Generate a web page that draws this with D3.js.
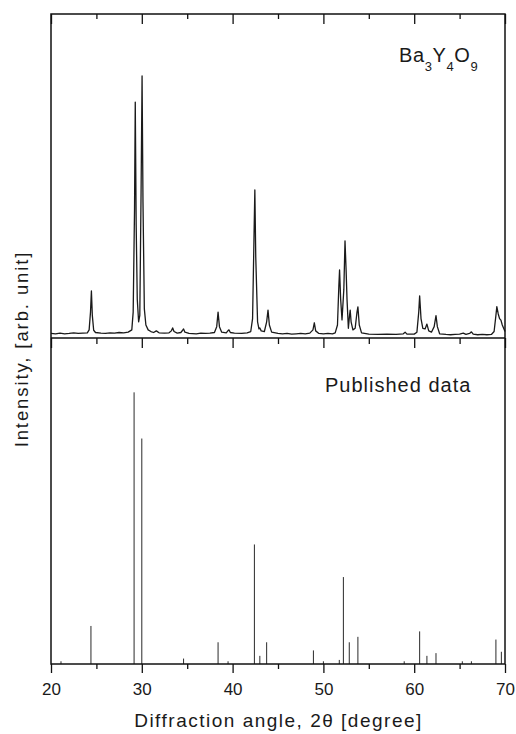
<!DOCTYPE html>
<html>
<head>
<meta charset="utf-8">
<script src="https://cdn.jsdelivr.net/npm/d3@7"></script>
<style>
  html, body { margin: 0; padding: 0; background: #fff; }
  svg { display: block; font-family: "Liberation Sans", Arial, sans-serif; }
</style>
</head>
<body>
<div id="chart"></div>
<script>
const measured = [
  [20.0,14],[20.5,13],[21.0,15],[21.5,13],[22.0,14],[22.5,16],[23.0,14],[23.5,15],[24.0,16],
  [24.2,25],[24.35,80],[24.45,145],[24.55,70],[24.7,24],[24.9,17],[25.5,15],[26.0,14],[26.5,16],
  [27.0,15],[27.5,17],[28.0,16],[28.5,18],[28.9,25],[29.05,80],[29.2,400],[29.28,728],[29.38,350],
  [29.5,120],[29.65,50],[29.78,70],[29.92,450],[30.03,809],[30.13,420],[30.28,90],[30.45,40],
  [30.7,25],[31.0,20],[31.3,17],[31.6,22],[31.9,16],[32.5,15],[33.0,16],[33.25,22],[33.4,31],
  [33.55,20],[33.9,15],[34.3,17],[34.5,24],[34.6,28],[34.75,18],[35.2,14],[36.0,13],[36.5,15],
  [37.0,14],[37.5,15],[38.0,17],[38.25,35],[38.4,80],[38.55,35],[38.8,18],[39.3,16],[39.5,23],
  [39.6,25],[39.75,17],[40.2,15],[41.0,14],[41.6,16],[42.0,20],[42.2,60],[42.35,300],[42.45,457],
  [42.55,250],[42.75,50],[42.9,28],[43.0,31],[43.15,22],[43.5,20],[43.75,50],[43.9,86],[44.05,40],
  [44.3,18],[45.0,14],[45.5,13],[46.0,14],[46.5,12],[47.0,13],[47.5,14],[48.0,13],[48.5,15],
  [48.85,25],[49.0,47],[49.15,22],[49.5,14],[50.0,13],[50.5,14],[51.0,13],[51.3,16],[51.55,40],
  [51.7,160],[51.78,210],[51.9,120],[52.05,56],[52.25,150],[52.38,300],[52.5,210],[52.6,120],
  [52.75,30],[52.88,70],[52.95,86],[53.05,50],[53.25,25],[53.5,30],[53.7,80],[53.8,96],[53.95,40],
  [54.2,16],[55.0,12],[56.0,11],[57.0,12],[58.0,11],[58.8,13],[59.0,18],[59.2,12],[60.0,12],
  [60.3,18],[60.5,80],[60.6,130],[60.75,60],[60.95,30],[61.2,28],[61.4,43],[61.6,22],[61.9,18],
  [62.2,35],[62.4,69],[62.55,35],[62.8,13],[63.5,11],[64.0,10],[64.5,11],[65.0,12],[65.4,15],
  [65.7,11],[66.1,14],[66.3,19],[66.5,12],[67.0,10],[67.5,11],[68.0,10],[68.5,11],[68.8,20],
  [69.0,70],[69.1,97],[69.25,75],[69.4,60],[69.55,55],[69.7,40],[69.85,30],[70.0,20]
];

// reference stick pattern (published data)
const stickAngles = [21.1, 24.4, 29.15, 30.0, 34.6, 38.4, 39.5, 42.4, 43.0, 43.75, 48.9, 50.0,
  51.75, 52.2, 52.85, 53.8, 58.9, 60.6, 61.4, 62.4, 65.3, 66.3, 69.0, 69.6];
const stickIntensity = [1, 14, 100, 83, 2, 8, 1, 44, 3, 8, 5, 1,
  1.5, 32, 8, 10, 1, 12, 3, 4, 1, 1, 9, 4.5];

const majorTicks = [20, 30, 40, 50, 60, 70];
const minorTicks = [25, 35, 45, 55, 65];

const W = 516, H = 734;
const plotLeft = 51, plotRight = 505, plotTop = 14, plotMid = 338, plotBottom = 664;

const svg = d3.select('#chart').append('svg')
  .attr('width', W)
  .attr('height', H);

const x = d3.scaleLinear().domain([20, 70]).range([plotLeft, plotRight]);
const yTop = d3.scaleLinear().domain([0, 1000]).range([plotMid, plotTop]);
const yBot = d3.scaleLinear().domain([0, 120]).range([plotBottom, plotMid]);

// measured curve
svg.append('path')
  .datum(measured)
  .attr('fill', 'none')
  .attr('stroke', '#1a1a1a')
  .attr('stroke-width', 1.3)
  .attr('stroke-linejoin', 'round')
  .attr('d', d3.line().x(d => x(d[0])).y(d => yTop(d[1])));

// sticks
svg.append('g').selectAll('line')
  .data(stickAngles)
  .join('line')
  .attr('x1', d => x(d))
  .attr('x2', d => x(d))
  .attr('y1', yBot(0))
  .attr('y2', (d, i) => yBot(stickIntensity[i]))
  .attr('stroke', '#2a2a2a')
  .attr('stroke-width', 1);

// tick rows, all pointing down
function tickRow(y, size, values) {
  const g = svg.append('g')
    .attr('transform', `translate(0,${y})`)
    .call(d3.axisBottom(x).tickValues(values).tickSize(size).tickFormat(''));
  g.select('.domain').remove();
  g.selectAll('line').attr('stroke', '#111').attr('stroke-width', 1.3);
  return g;
}
tickRow(plotTop, 10, majorTicks);
tickRow(plotTop, 5, minorTicks);
tickRow(plotMid, 10, majorTicks);
tickRow(plotMid, 6, minorTicks);
tickRow(plotBottom, 5, minorTicks);

const xAxis = svg.append('g')
  .attr('transform', `translate(0,${plotBottom})`)
  .call(d3.axisBottom(x).tickValues(majorTicks).tickSize(9).tickPadding(10).tickFormat(d3.format('d')));
xAxis.select('.domain').remove();
xAxis.selectAll('line').attr('stroke', '#111').attr('stroke-width', 1.3);
xAxis.selectAll('text')
  .attr('font-size', 17)
  .attr('fill', '#1a1a1a')
  .attr('font-family', '"Liberation Sans", Arial, sans-serif');

// frame and divider
svg.append('rect')
  .attr('x', plotLeft).attr('y', plotTop)
  .attr('width', plotRight - plotLeft).attr('height', plotBottom - plotTop)
  .attr('fill', 'none')
  .attr('stroke', '#111')
  .attr('stroke-width', 1.5);
svg.append('line')
  .attr('x1', plotLeft).attr('x2', plotRight)
  .attr('y1', plotMid).attr('y2', plotMid)
  .attr('stroke', '#111')
  .attr('stroke-width', 1.5);

// labels
const formula = svg.append('text')
  .attr('x', 399).attr('y', 62)
  .attr('font-size', 20)
  .attr('letter-spacing', 0.6)
  .attr('fill', '#1a1a1a');
[['Ba', false], ['3', true], ['Y', false], ['4', true], ['O', false], ['9', true]].forEach(([t, sub], i, arr) => {
  const prevSub = i > 0 && arr[i - 1][1];
  formula.append('tspan')
    .attr('dy', sub ? 9 : (prevSub ? -9 : 0))
    .attr('font-size', sub ? 13 : 20)
    .text(t);
});

svg.append('text')
  .attr('x', 325).attr('y', 392)
  .attr('font-size', 20)
  .attr('letter-spacing', 1)
  .attr('fill', '#1a1a1a')
  .text('Published data');

svg.append('text')
  .attr('x', 278.5).attr('y', 727)
  .attr('text-anchor', 'middle')
  .attr('font-size', 19)
  .attr('letter-spacing', 1.5)
  .attr('fill', '#1a1a1a')
  .text('Diffraction angle, 2θ [degree]');

svg.append('text')
  .attr('transform', 'translate(28,349) rotate(-90)')
  .attr('text-anchor', 'middle')
  .attr('font-size', 18.5)
  .attr('letter-spacing', 1.9)
  .attr('fill', '#1a1a1a')
  .text('Intensity, [arb. unit]');
</script>
</body>
</html>
